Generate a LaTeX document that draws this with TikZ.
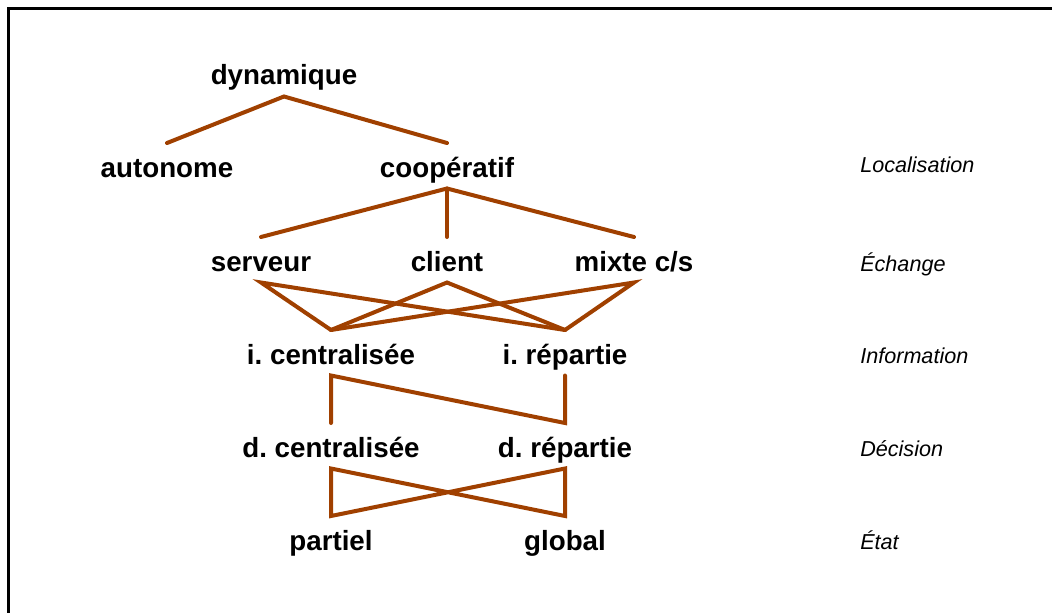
\documentclass[tikz,border=0pt]{standalone}
\usepackage{fontspec}
\setmainfont{Liberation Sans}
\usetikzlibrary{calc}
\definecolor{linkbrown}{RGB}{160,64,0}
\frenchspacing
\tikzset{
  term/.style={anchor=base, inner sep=0pt, font=\fontsize{20.8}{24}\selectfont\bfseries},
  axis/.style={anchor=base west, inner sep=0pt, font=\fontsize{16.2}{19}\selectfont\itshape},
  link/.style={draw=linkbrown, line width=3pt, line cap=round, line join=miter},
  frame/.style={draw=black, line width=2.6pt}
}
\begin{document}
\begin{tikzpicture}[x=0.75pt, y=-0.75pt]
\useasboundingbox (0,0) rectangle (1052,613);
% partial frame
\coordinate (fTL) at (8.5,8.5);
\coordinate (fTR) at (1052,8.5);
\coordinate (fBL) at (8.5,613);
\draw[frame] (fTR) -- (fTL) -- (fBL);

% terms
\node[term] (dyn)   at (284,85)  {dynamique};
\node[term] (auto)  at (167,177) {autonome};
\node[term] (coop)  at (447,177) {coopératif};
\node[term] (serv)  at (261,271) {serveur};
\node[term] (cli)   at (447,271) {client};
\node[term] (mix)   at (634,271) {mixte c/s};
\node[term] (icen)  at (331,364) {i. centralisée};
\node[term] (irep)  at (565,364) {i. répartie};
\node[term] (dcen)  at (331,457) {d. centralisée};
\node[term] (drep)  at (565,457) {d. répartie};
\node[term] (part)  at (331,550) {partiel};
\node[term] (glob)  at (565,550) {global};

% level names
\node[axis] (lLoc)  at (860,172) {Localisation};
\node[axis] (lEch)  at (860,271) {Échange};
\node[axis] (lInf)  at (860,363) {Information};
\node[axis] (lDec)  at (860,456) {Décision};
\node[axis] (lEta)  at (860,549) {État};

% attachment points above (t) and below (b) each term
\foreach \n in {dyn,auto,coop,serv,cli,mix,icen,irep,dcen,drep,part,glob}{
  \coordinate (\n-t) at ($(\n.base)+(0,-34)$);
  \coordinate (\n-b) at ($(\n.base)+(0,11.5)$);
}

% tree links
\draw[link] (auto-t) -- (dyn-b) -- (coop-t);
\draw[link] (serv-t) -- (coop-b) -- (mix-t);
\draw[link] (coop-b) -- (cli-t);

\draw[link] (icen-t) -- (serv-b) -- (irep-t);
\draw[link] (icen-t) -- (cli-b) -- (irep-t);
\draw[link] (icen-t) -- (mix-b) -- (irep-t);

\draw[link] (dcen-t) -- (icen-b) -- (drep-t) -- (irep-b);

\draw[link] (part-t) -- (dcen-b) -- (glob-t) -- (drep-b) -- cycle;
\end{tikzpicture}
\end{document}
